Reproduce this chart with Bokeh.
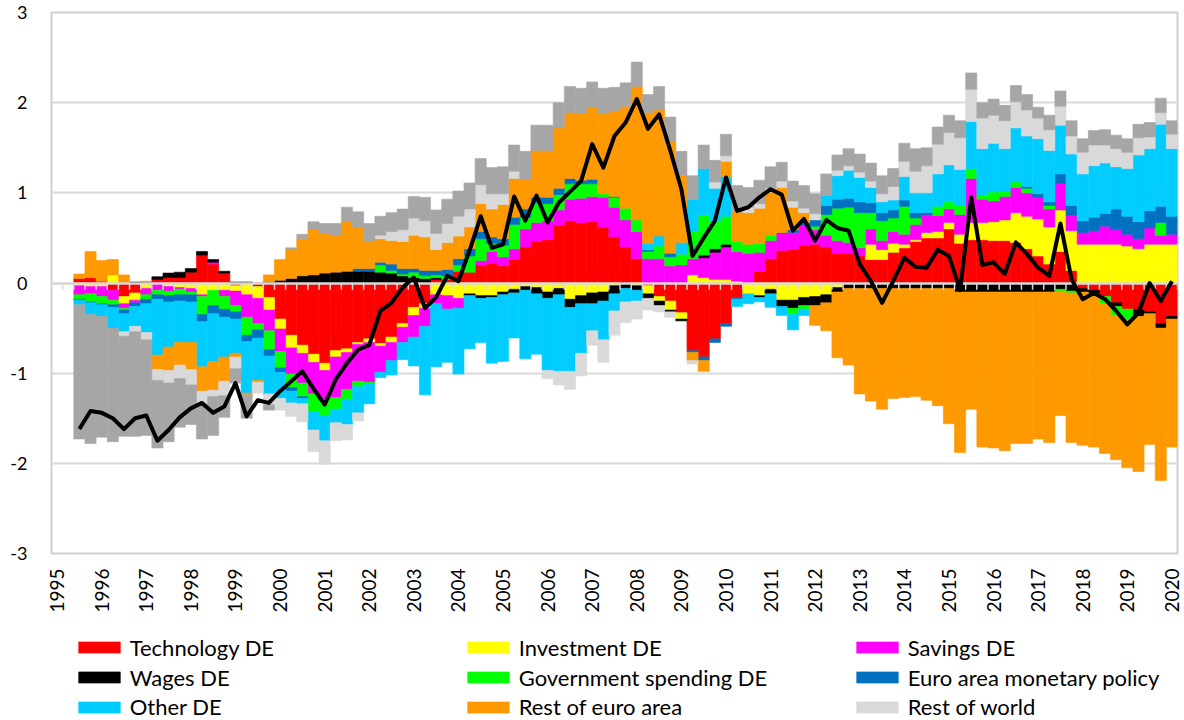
import math
from bokeh.plotting import figure
from bokeh.layouts import column
from bokeh.models import ColumnDataSource, Legend, LegendItem, FixedTicker, Range1d
from bokeh.embed import file_html
from bokeh.resources import INLINE

# ---------------- data (1995Q3 .. 2020Q1) ----------------
quarters = [f"{1995 + (k // 4)}Q{k % 4 + 1}" for k in range(2, 101)]
year_labels = [str(y) for y in range(1995, 2021)]
y_ticks = [-3, -2, -1, 0, 1, 2, 3]
y_tick_labels = ["-3", "-2", "-1", "0", "1", "2", "3"]

technology_de = [
    0.05, 0.06, 0.02, -0.08, -0.15, -0.11, 0.00, 0.04, 0.06, 0.06, 0.12, 0.31, 0.21, 0.11, -0.03,
    0.00, -0.04, -0.16, -0.40, -0.58, -0.69, -0.79, -0.89, -0.75, -0.73, -0.66, -0.62, -0.67, -0.60, -0.45, -0.27, -0.23,
    0.04, 0.04, 0.13, 0.12, 0.20, 0.22, 0.19, 0.26, 0.40, 0.46, 0.48, 0.64, 0.69, 0.67, 0.68, 0.62, 0.51,
    0.40, 0.27, -0.03, -0.15, -0.20, -0.33, -0.75, -0.82, -0.62, -0.45, -0.16, 0.00, 0.13, 0.27, 0.36, 0.37,
    0.42, 0.43, 0.40, 0.33, 0.33, 0.30, 0.26, 0.26, 0.34, 0.39, 0.46, 0.50, 0.50, 0.60, 0.44, 0.48, 0.48,
    0.47, 0.47, 0.45, 0.38, 0.30, 0.21, 0.35, 0.14, -0.06, -0.08, -0.15, -0.22, -0.29, -0.30, -0.32, -0.45, -0.37]

investment_de = [
    -0.03, -0.04, -0.04, 0.09, -0.08, -0.08, -0.06, 0.00, -0.04, -0.05, -0.06, -0.13, -0.08, -0.08, -0.06,
    -0.13, -0.13, -0.14, -0.11, -0.14, -0.09, -0.09, -0.08, -0.07, -0.04, -0.02, -0.04, -0.03, -0.06, -0.04, -0.09, -0.05,
    -0.13, -0.14, -0.17, -0.12, -0.14, -0.14, -0.10, -0.07, -0.04, -0.05, -0.10, -0.06, -0.18, -0.14, -0.11, -0.10, -0.03,
    0.00, -0.03, -0.09, -0.05, -0.10, -0.07, 0.09, 0.06, 0.04, 0.04, 0.02, -0.12, -0.14, -0.07, -0.19, -0.19,
    -0.16, -0.15, -0.13, -0.05, 0.00, 0.00, 0.17, 0.11, 0.10, 0.04, 0.02, 0.06, 0.07, 0.07, 0.10, 0.19, 0.19,
    0.21, 0.23, 0.33, 0.36, 0.41, 0.41, 0.46, 0.44, 0.43, 0.43, 0.43, 0.43, 0.41, 0.38, 0.43, 0.43, 0.43]

savings_de = [
    -0.10, -0.08, -0.11, -0.11, -0.05, -0.03, -0.07, -0.08, -0.05, -0.02, -0.04, -0.02, 0.02, -0.07, -0.16,
    -0.25, -0.28, -0.23, -0.25, -0.29, -0.33, -0.35, -0.33, -0.45, -0.41, -0.41, -0.44, -0.29, -0.20, -0.17, -0.24, -0.20,
    -0.10, -0.15, -0.11, 0.00, 0.05, 0.13, 0.10, 0.12, 0.20, 0.21, 0.21, 0.17, 0.24, 0.27, 0.28, 0.33, 0.33,
    0.30, 0.30, 0.27, 0.27, 0.19, 0.20, 0.18, 0.22, 0.30, 0.36, 0.33, 0.33, 0.21, 0.20, 0.19, 0.19,
    0.22, 0.16, 0.13, 0.14, 0.12, 0.09, 0.17, 0.10, 0.13, 0.11, 0.17, 0.20, 0.18, 0.15, 0.22, 0.49, 0.26,
    0.23, 0.26, 0.28, 0.26, 0.24, 0.20, 0.30, 0.17, 0.13, 0.15, 0.20, 0.16, 0.13, 0.11, 0.18, 0.10, 0.11]

wages_de = [
    0.00, 0.00, 0.00, 0.00, 0.00, 0.01, 0.01, 0.03, 0.05, 0.06, 0.04, 0.04, 0.03, 0.02, 0.01,
    0.01, 0.00, 0.01, 0.03, 0.05, 0.08, 0.09, 0.11, 0.12, 0.13, 0.13, 0.13, 0.12, 0.11, 0.08, 0.06, 0.05,
    0.02, 0.00, 0.00, -0.02, -0.03, -0.02, -0.03, -0.04, -0.04, -0.07, -0.07, -0.07, -0.09, -0.09, -0.12, -0.10, -0.09,
    -0.06, -0.05, -0.05, -0.05, -0.02, -0.02, 0.00, 0.03, 0.04, 0.03, 0.00, 0.00, -0.02, -0.05, -0.07, -0.09,
    -0.09, -0.10, -0.09, -0.05, -0.06, -0.06, -0.06, -0.06, -0.06, -0.06, -0.06, -0.06, -0.06, -0.06, -0.10, -0.10, -0.10,
    -0.10, -0.10, -0.10, -0.10, -0.10, -0.10, -0.07, -0.09, -0.04, -0.04, 0.00, -0.04, 0.00, -0.07, -0.02, -0.05, -0.03]

government_de = [
    -0.05, -0.09, -0.08, -0.05, -0.02, 0.00, -0.05, -0.05, -0.05, -0.06, -0.03, -0.20, -0.17, -0.14, -0.07,
    -0.20, -0.07, -0.21, -0.18, -0.15, -0.15, -0.20, -0.17, -0.13, -0.11, -0.06, -0.02, 0.08, 0.03, 0.02, 0.06, 0.03,
    0.03, 0.04, 0.07, 0.18, 0.24, 0.09, 0.13, 0.27, 0.13, 0.22, 0.19, 0.17, 0.17, 0.16, 0.14, 0.04, 0.11,
    0.13, 0.13, 0.08, 0.14, 0.10, 0.12, 0.30, 0.44, 0.30, 0.31, 0.11, 0.10, 0.10, 0.06, 0.00, -0.07,
    -0.04, 0.04, 0.23, 0.36, 0.39, 0.39, 0.18, 0.22, 0.15, 0.31, 0.07, 0.00, 0.10, 0.08, 0.10, 0.11, 0.05,
    0.10, 0.06, 0.06, 0.05, 0.00, 0.04, -0.02, -0.02, 0.00, 0.00, -0.08, -0.10, -0.12, 0.00, 0.00, 0.14, 0.00]

monetary_policy_ea = [
    -0.01, -0.01, -0.01, -0.03, -0.04, -0.04, -0.05, -0.05, -0.07, -0.07, -0.08, -0.08, -0.09, -0.09, -0.08,
    -0.07, -0.09, -0.07, -0.05, -0.04, -0.02, 0.00, 0.00, 0.00, 0.00, 0.03, 0.03, 0.03, 0.07, 0.06, 0.04, 0.06,
    0.05, 0.07, 0.07, 0.08, 0.08, 0.07, 0.07, 0.08, 0.09, 0.06, 0.07, 0.07, 0.06, 0.04, 0.05, 0.00, 0.01,
    0.00, 0.00, 0.02, 0.00, 0.04, 0.00, -0.02, -0.04, -0.04, -0.03, -0.02, 0.00, 0.00, 0.00, 0.01, 0.03,
    0.03, 0.07, 0.10, 0.10, 0.10, 0.12, 0.11, 0.09, 0.09, 0.07, 0.06, 0.02, 0.00, 0.00, 0.00, 0.00, 0.00,
    0.00, 0.00, 0.00, 0.02, 0.04, 0.04, 0.10, 0.11, 0.13, 0.15, 0.14, 0.23, 0.20, 0.19, 0.19, 0.18, 0.20]

other_de = [
    -0.05, -0.13, -0.13, -0.23, -0.20, -0.22, -0.32, -0.62, -0.50, -0.46, -0.45, -0.50, -0.53, -0.44, -0.38,
    -0.57, -0.47, -0.42, -0.29, -0.13, -0.06, -0.20, -0.28, -0.15, -0.28, -0.29, -0.22, -0.06, -0.16, -0.19, -0.32, -0.76,
    -0.70, -0.59, -0.73, -0.59, -0.49, -0.73, -0.74, -0.50, -0.76, -0.67, -0.80, -0.85, -0.71, -0.55, -0.30, -0.43, -0.19,
    -0.15, -0.12, 0.07, 0.11, 0.00, 0.13, 0.36, 0.52, 0.37, 0.44, -0.08, -0.11, -0.05, -0.15, -0.10, -0.17,
    -0.07, 0.00, 0.11, 0.26, 0.31, 0.27, 0.17, 0.12, 0.11, 0.26, 0.22, 0.22, 0.36, 0.41, 0.40, 0.52, 0.51,
    0.54, 0.47, 0.60, 0.56, 0.61, 0.57, 0.54, 0.57, 0.52, 0.57, 0.56, 0.47, 0.53, 0.74, 0.69, 0.91, 0.75]

rest_of_euro_area = [
    0.05, 0.29, 0.23, 0.17, 0.09, 0.00, 0.01, -0.16, -0.26, -0.25, -0.30, -0.27, -0.32, -0.27, -0.04,
    -0.02, -0.02, 0.08, 0.23, 0.32, 0.41, 0.51, 0.44, 0.41, 0.55, 0.46, 0.30, 0.26, 0.26, 0.30, 0.37, 0.37,
    0.23, 0.30, 0.25, 0.24, 0.31, 0.31, 0.38, 0.43, 0.33, 0.52, 0.52, 0.67, 0.73, 0.74, 0.80, 0.89, 0.95,
    1.13, 1.48, 1.45, 1.40, 1.24, 0.74, -0.09, -0.12, 0.00, 0.17, 0.33, 0.35, 0.39, 0.48, 0.50, 0.25,
    0.11, -0.22, -0.31, -0.73, -0.85, -1.17, -1.25, -1.34, -1.22, -1.21, -1.20, -1.24, -1.30, -1.50, -1.78, -1.30, -1.72,
    -1.73, -1.76, -1.68, -1.68, -1.63, -1.67, -1.38, -1.66, -1.70, -1.70, -1.66, -1.60, -1.64, -1.72, -1.45, -1.69, -1.42]

rest_of_world = [
    0.00, 0.00, 0.00, 0.00, -0.05, -0.06, -0.08, -0.12, -0.14, -0.15, -0.17, -0.15, -0.07, -0.16, -0.13,
    0.00, -0.12, -0.12, -0.13, -0.15, -0.20, -0.24, -0.26, -0.20, -0.17, -0.09, 0.00, 0.04, 0.10, 0.13, 0.19, 0.18,
    0.18, 0.21, 0.22, 0.20, 0.21, 0.17, 0.12, 0.08, 0.00, 0.00, -0.09, -0.15, -0.20, -0.25, -0.16, -0.25, -0.27,
    -0.23, -0.20, -0.13, -0.07, -0.06, 0.00, -0.04, 0.00, 0.07, 0.06, 0.00, 0.06, 0.05, 0.04, 0.07, 0.07,
    0.05, 0.07, 0.00, 0.06, 0.05, 0.06, 0.07, 0.09, 0.15, 0.17, 0.24, 0.30, 0.33, 0.36, 0.35, 0.36, 0.34,
    0.31, 0.31, 0.29, 0.29, 0.23, 0.23, 0.21, 0.20, 0.24, 0.23, 0.20, 0.20, 0.18, 0.19, 0.13, 0.13, 0.16]

initial_conditions = [
    -1.49, -1.43, -1.34, -1.26, -1.11, -1.16, -1.06, -0.75, -0.65, -0.54, -0.44, -0.38, -0.43, -0.24, -0.16,
    -0.26, 0.00, -0.06, 0.00, 0.02, 0.05, 0.08, 0.11, 0.13, 0.16, 0.17, 0.20, 0.21, 0.21, 0.23, 0.24, 0.26,
    0.26, 0.27, 0.28, 0.29, 0.29, 0.29, 0.30, 0.29, 0.31, 0.28, 0.28, 0.28, 0.29, 0.28, 0.28, 0.28, 0.26,
    0.26, 0.27, 0.20, 0.26, 0.27, 0.27, 0.26, 0.26, 0.24, 0.24, 0.29, 0.22, 0.26, 0.24, 0.21, 0.22,
    0.25, 0.22, 0.24, 0.17, 0.19, 0.20, 0.20, 0.20, 0.20, 0.20, 0.25, 0.20, 0.19, 0.19, 0.19, 0.18, 0.17,
    0.18, 0.17, 0.18, 0.17, 0.12, 0.16, 0.17, 0.17, 0.15, 0.16, 0.17, 0.15, 0.15, 0.15, 0.16, 0.16, 0.15]

gdp_deviation = [
    -1.62, -1.42, -1.44, -1.50, -1.62, -1.50, -1.47, -1.75, -1.63, -1.49, -1.39, -1.33, -1.44, -1.37, -1.11,
    -1.48, -1.30, -1.33, -1.20, -1.09, -0.98, -1.17, -1.35, -1.07, -0.89, -0.74, -0.69, -0.31, -0.22, -0.05, 0.06, -0.28,
    -0.16, 0.08, 0.02, 0.36, 0.74, 0.39, 0.43, 0.96, 0.69, 0.97, 0.67, 0.89, 1.01, 1.13, 1.54, 1.28, 1.63,
    1.78, 2.04, 1.71, 1.87, 1.47, 1.04, 0.30, 0.50, 0.69, 1.17, 0.80, 0.84, 0.95, 1.04, 0.98, 0.58,
    0.71, 0.47, 0.70, 0.61, 0.58, 0.21, 0.02, -0.22, 0.02, 0.28, 0.18, 0.17, 0.37, 0.30, -0.08, 0.95, 0.20,
    0.23, 0.10, 0.45, 0.32, 0.17, 0.08, 0.66, 0.04, -0.18, -0.11, -0.18, -0.31, -0.46, -0.33, 0.00, -0.20, 0.02]

series = [
    ("Technology DE", technology_de, "#FF0000"),
    ("Investment DE", investment_de, "#FFFF00"),
    ("Savings DE", savings_de, "#FF00FF"),
    ("Wages DE", wages_de, "#000000"),
    ("Government spending DE", government_de, "#00FF00"),
    ("Euro area monetary policy", monetary_policy_ea, "#0070C0"),
    ("Other DE", other_de, "#00CCFF"),
    ("Rest of euro area", rest_of_euro_area, "#FF9900"),
    ("Rest of world", rest_of_world, "#D9D9D9"),
    ("Initial conditions", initial_conditions, "#A6A6A6"),
]
legend_rows = [
    ["Technology DE", "Investment DE", "Savings DE"],
    ["Wages DE", "Government spending DE", "Euro area monetary policy"],
    ["Other DE", "Rest of euro area", "Rest of world"],
]

# ---------------- figure ----------------
FONT = "Lato"
GRID = "#D9D9D9"
W = 1184
CHART_H = 620
LEG_H = 100


def cat_index(q):
    y, qq = q.split("Q")
    return (int(y) - 1995) * 4 + int(qq) - 1


xs_all = [cat_index(q) for q in quarters]
n_cat = cat_index("2020Q1") + 1

p = figure(width=W, height=CHART_H, output_backend="svg", toolbar_location=None,
           x_range=Range1d(-0.5, n_cat - 0.5), y_range=Range1d(-3, 3),
           min_border=0, min_border_left=51, min_border_right=7, min_border_top=12,
           min_border_bottom=CHART_H - 553)
p.background_fill_color = "white"
p.border_fill_color = "white"
p.outline_line_color = "#CFCFCF"
p.outline_line_width = 2
p.xgrid.visible = False
p.ygrid.grid_line_color = GRID
p.ygrid.grid_line_width = 2
p.ygrid.ticker = FixedTicker(ticks=y_ticks)

p.yaxis.ticker = FixedTicker(ticks=y_ticks)
p.yaxis.major_label_overrides = {t: lab for t, lab in zip(y_ticks, y_tick_labels)}
p.yaxis.axis_line_color = None
p.yaxis.major_tick_out = 0
p.yaxis.major_tick_in = 0
p.yaxis.minor_tick_out = 0
p.yaxis.minor_tick_in = 0
p.yaxis.major_label_standoff = 24
p.yaxis.major_label_text_font = FONT
p.yaxis.major_label_text_font_size = "18px"
p.yaxis.major_label_text_color = "black"

year_ticks = [cat_index(f"{y}Q1") for y in year_labels]
p.xaxis.ticker = FixedTicker(ticks=year_ticks)
p.xaxis.major_label_overrides = {t: lab for t, lab in zip(year_ticks, year_labels)}
p.xaxis.major_label_orientation = math.pi / 2
p.xaxis.axis_line_color = None
p.xaxis.major_tick_out = 0
p.xaxis.major_tick_in = 0
p.xaxis.minor_tick_out = 0
p.xaxis.minor_tick_in = 0
p.xaxis.major_label_standoff = 15
p.xaxis.major_label_text_font = FONT
p.xaxis.major_label_text_font_size = "19px"
p.xaxis.major_label_text_color = "black"

# stacked bars (positives upward, negatives downward, in series order)
n = len(quarters)
pos = [0.0] * n
neg = [0.0] * n
for name, vals, color in series:
    bx, bb, bt = [], [], []
    for i, v in enumerate(vals):
        if v == 0:
            continue
        if v > 0:
            b, t = pos[i], pos[i] + v
            pos[i] = t
        else:
            t, b = neg[i], neg[i] + v
            neg[i] = b
        bx.append(xs_all[i]); bb.append(b); bt.append(t)
    src = ColumnDataSource(dict(x=bx, bottom=bb, top=bt))
    p.vbar(x="x", width=1.0, bottom="bottom", top="top", source=src,
           fill_color=color, line_color=color, line_width=0.6)

# zero axis with category tick marks
p.hspan(y=[0], line_color=GRID, line_width=2.5)
edges = [c - 0.5 for c in range(n_cat + 1)]
p.segment(x0=edges, y0=[0] * len(edges), x1=edges, y1=[-0.075] * len(edges),
          line_color=GRID, line_width=1.5)

# total line
p.line(xs_all, gdp_deviation, line_color="black", line_width=4, line_join="round")

# ---------------- legend strip (frame aligned with the chart frame) ----------------
q = figure(width=W, height=LEG_H, output_backend="svg", toolbar_location=None,
           x_range=Range1d(0, 1), y_range=Range1d(0, 1),
           x_axis_location=None, y_axis_location=None,
           min_border=0, min_border_left=0, min_border_right=0, min_border_top=0, min_border_bottom=0)
q.grid.visible = False
q.outline_line_color = None
q.background_fill_color = "white"
q.border_fill_color = "white"
colors = {name: color for name, _, color in series}
legend_renderers = {}
for name in [nm for row in legend_rows for nm in row]:
    # one off-canvas placeholder so the legend swatch can be drawn
    legend_renderers[name] = q.vbar(x=[-5], top=[0], width=1, fill_color=colors[name],
                                    line_color=colors[name], line_width=0.6)

ITEM_H = 30
row_centers = [27, 57, 86.5]  # px from the top of the legend strip
for names, yc in zip(legend_rows, row_centers):
    items = [LegendItem(label=nm, renderers=[legend_renderers[nm]]) for nm in names]
    lg = Legend(items=items, location=(21.7, LEG_H - (yc + ITEM_H / 2)), orientation="horizontal",
                glyph_width=52, glyph_height=14, label_standoff=5, spacing=6,
                padding=0, margin=0, label_height=ITEM_H, label_width=326,
                label_text_font=FONT, label_text_font_size="22px", label_text_color="black",
                border_line_alpha=0, background_fill_alpha=0)
    q.add_layout(lg, "center")

layout = column(p, q, spacing=0)
open("out.html", "w").write(file_html(layout, INLINE))
